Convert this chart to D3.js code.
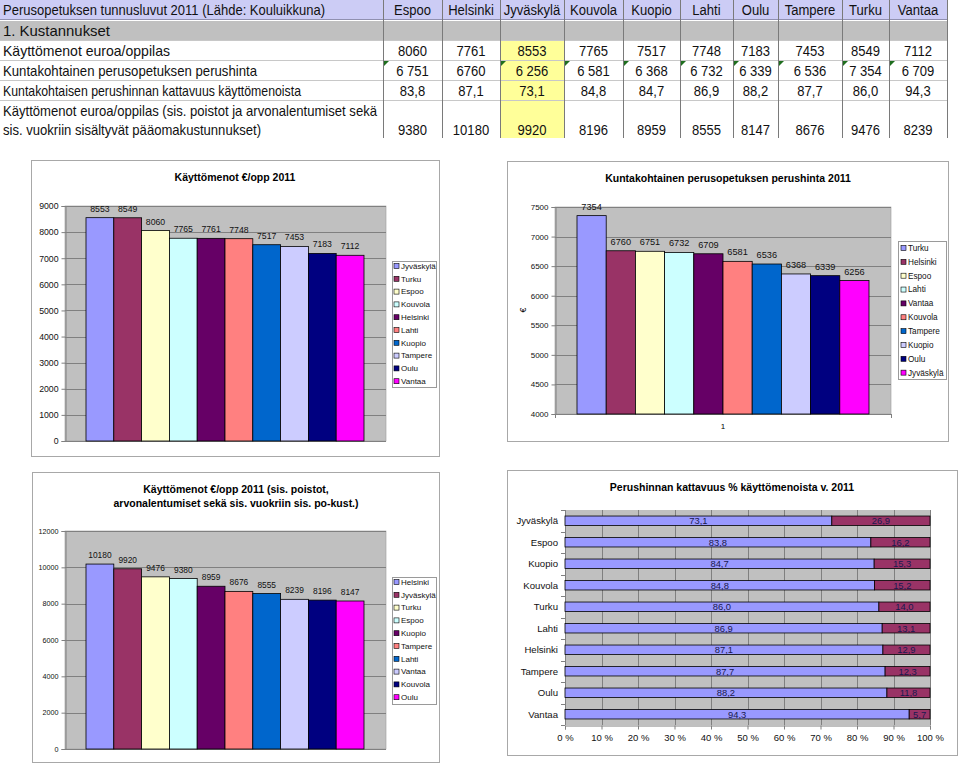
<!DOCTYPE html>
<html><head><meta charset="utf-8">
<script src="https://cdn.jsdelivr.net/npm/d3@7"></script>
<style>
body{margin:0;background:#fff}
svg{display:block;font-family:Arial,"Liberation Sans",sans-serif}
</style>
</head><body>
<svg id="c" width="960" height="764"></svg>
<script>
// ---------------- DATA ----------------
const cities = ["Espoo","Helsinki","Jyväskylä","Kouvola","Kuopio","Lahti","Oulu","Tampere","Turku","Vantaa"];
const kayttomenot = [8060,7761,8553,7765,7517,7748,7183,7453,8549,7112];
const perushinta = [6751,6760,6256,6581,6368,6732,6339,6536,7354,6709];
const perushintaText = ["6 751","6760","6 256","6 581","6 368","6 732","6 339","6 536","7 354","6 709"];
const kattavuus = [83.8,87.1,73.1,84.8,84.7,86.9,88.2,87.7,86.0,94.3];
const kayttomenotSis = [9380,10180,9920,8196,8959,8555,8147,8676,9476,8239];

const tableTitle = "Perusopetuksen tunnusluvut 2011 (Lähde: Kouluikkuna)";
const sectionLabel = "1. Kustannukset";
const rowLabels = [
  ["Käyttömenot euroa/oppilas"],
  ["Kuntakohtainen perusopetuksen perushinta"],
  ["Kuntakohtaisen perushinnan kattavuus käyttömenoista"],
  ["Käyttömenot euroa/oppilas (sis. poistot ja arvonalentumiset sekä","sis. vuokriin sisältyvät pääomakustunnukset)"]
];

const title1 = ["Käyttömenot €/opp 2011"];
const title2 = ["Kuntakohtainen perusopetuksen perushinta 2011"];
const title3 = ["Käyttömenot €/opp 2011 (sis. poistot,","arvonalentumiset sekä sis. vuokriin sis. po-kust.)"];
const title4 = ["Perushinnan kattavuus % käyttömenoista v. 2011"];

const ticks1 = [0,1000,2000,3000,4000,5000,6000,7000,8000,9000];
const ticks2 = [4000,4500,5000,5500,6000,6500,7000,7500];
const ticks3 = [0,2000,4000,6000,8000,10000,12000];
const ticks4 = [0,10,20,30,40,50,60,70,80,90,100];
const categoryLabel2 = "1";
const axisLabel2 = "€";

// ---------------- STYLE ----------------
const colors = ["#9999FF","#993366","#FFFFCC","#CCFFFF","#660066","#FF8080","#0066CC","#CCCCFF","#000080","#FF00FF"];
const gridColor = "#808080";
const plotBg = "#C0C0C0";

const svg = d3.select("#c");
svg.append("rect").attr("width",960).attr("height",764).attr("fill","#fff");

// ---------------- TABLE ----------------
(function table(){
  const g = svg.append("g");
  const colEdges = [383,442,500,564,623,680,733,778,842,889,947];
  // header
  g.append("rect").attr("x",0).attr("y",0).attr("width",947).attr("height",19).attr("fill","#CCCCF5");
  g.append("rect").attr("x",0).attr("y",21).attr("width",947).attr("height",19).attr("fill","#C0C0C0");
  // yellow Jyväskylä column
  const ji = cities.indexOf("Jyväskylä");
  g.append("rect").attr("x",colEdges[ji]).attr("y",40).attr("width",colEdges[ji+1]-colEdges[ji]).attr("height",98).attr("fill","#FFFF99");
  [40,60,80,100].forEach(y=>{
    g.append("line").attr("x1",0).attr("x2",947).attr("y1",y+.5).attr("y2",y+.5).attr("stroke","#c8c8c8");
  });
  g.append("line").attr("x1",0).attr("x2",947).attr("y1",19.5).attr("y2",19.5).attr("stroke","#9090b0");
  colEdges.forEach(x=>{
    g.append("line").attr("x1",x+.5).attr("x2",x+.5).attr("y1",0).attr("y2",138).attr("stroke","#7a7a7a");
  });
  const fs = 15, sx = 0.87;
  function label(txt,x,y,len){
    g.append("text").attr("x",x).attr("y",y).attr("font-size",fs).attr("fill","#111")
      .attr("textLength",len).attr("lengthAdjust","spacingAndGlyphs").text(txt);
  }
  function num(txt,cx,y){
    g.append("text").attr("transform",`translate(${cx},${y}) scale(${sx},1)`).attr("text-anchor","middle")
      .attr("font-size",fs).attr("fill","#111").text(txt);
  }
  label(tableTitle,3,15,322);
  label(sectionLabel,3,36,107);
  label(rowLabels[0][0],3,56,167);
  label(rowLabels[1][0],3,76,254);
  label(rowLabels[2][0],3,96,298);
  label(rowLabels[3][0],3,116,374);
  label(rowLabels[3][1],3,135,258);
  const fmt1 = d3.format(".1f");
  cities.forEach((c,i)=>{
    const cx = (colEdges[i]+colEdges[i+1])/2;
    num(c,cx,15);
    num(String(kayttomenot[i]),cx,56);
    num(perushintaText[i],cx,76);
    num(fmt1(kattavuus[i]).replace(".",","),cx,96);
    num(String(kayttomenotSis[i]),cx,135);
    if(perushintaText[i].indexOf(" ")>=0){
      const x = colEdges[i]+1;
      g.append("path").attr("d",`M${x},61 L${x+5},61 L${x},66 Z`).attr("fill","#1e6e1e");
    }
  });
})();

// ---------------- VERTICAL BAR CHARTS ----------------
function vbar(cfg){
  const g = svg.append("g");
  const [fx0,fy0,fx1,fy1] = cfg.frame;
  g.append("rect").attr("x",fx0+.5).attr("y",fy0+.5).attr("width",fx1-fx0).attr("height",fy1-fy0)
    .attr("fill","#fff").attr("stroke","#a8a8a8");
  cfg.title.forEach((t,i)=>{
    g.append("text").attr("x",cfg.titleX).attr("y",cfg.titleY+i*14).attr("text-anchor","middle")
      .attr("font-weight","bold").attr("font-size",cfg.titleFS).text(t);
  });
  const [px0,py0,px1,py1] = cfg.plot;
  g.append("rect").attr("x",px0).attr("y",py0).attr("width",px1-px0).attr("height",py1-py0)
    .attr("fill",plotBg).attr("stroke","#9a9a9a").attr("stroke-width",0.6);
  const y = d3.scaleLinear().domain([cfg.ticks[0],cfg.ticks[cfg.ticks.length-1]]).range([py1,py0]);
  g.append("g").selectAll("line").data(cfg.ticks).join("line")
    .attr("x1",px0).attr("x2",px1).attr("y1",d=>Math.round(y(d))+.5).attr("y2",d=>Math.round(y(d))+.5)
    .attr("stroke",gridColor).attr("stroke-width",1);
  const ax = g.append("g").attr("transform",`translate(${px0+.5},0)`)
    .call(d3.axisLeft(y).tickValues(cfg.ticks).tickSize(4).tickPadding(3).tickFormat(d=>String(d)));
  ax.attr("font-family",null).attr("font-size",cfg.tickFS);
  ax.select(".domain").attr("stroke",gridColor);
  ax.selectAll(".tick line").attr("stroke",gridColor);
  ax.selectAll(".tick text").attr("fill","#111");
  const x = d3.scaleBand().domain(cfg.names).range(cfg.bars).padding(0);
  g.append("g").selectAll("rect").data(cfg.names).join("rect")
    .attr("x",d=>x(d)).attr("y",(d,i)=>y(cfg.values[i]))
    .attr("width",x.bandwidth()).attr("height",(d,i)=>py1-y(cfg.values[i]))
    .attr("fill",(d,i)=>colors[i]).attr("stroke","#000").attr("stroke-width",0.8);
  g.append("g").selectAll("text").data(cfg.names).join("text")
    .attr("x",d=>x(d)+x.bandwidth()/2).attr("y",(d,i)=>y(cfg.values[i])-6)
    .attr("text-anchor","middle").attr("font-size",cfg.valFS).attr("fill","#111")
    .text((d,i)=>cfg.values[i]);
  const [lx0,ly0,lx1,ly1] = cfg.legend;
  g.append("rect").attr("x",lx0+.5).attr("y",ly0+.5).attr("width",lx1-lx0).attr("height",ly1-ly0)
    .attr("fill","#fff").attr("stroke","#9a9a9a");
  const li = g.append("g").selectAll("g").data(cfg.names).join("g")
    .attr("transform",(d,i)=>`translate(${cfg.swX},${cfg.legFirst+i*cfg.legStep})`);
  li.append("rect").attr("x",0).attr("y",-2.5).attr("width",5).attr("height",5)
    .attr("fill",(d,i)=>colors[i]).attr("stroke","#000").attr("stroke-width",0.6);
  li.append("text").attr("x",cfg.txX-cfg.swX).attr("y",0).attr("dy","0.35em")
    .attr("font-size",cfg.legFS).attr("fill","#111").text(d=>d);
  return {g,x,y};
}

function order(values, desc){
  const idx = d3.range(cities.length);
  idx.sort((a,b)=> desc ? values[b]-values[a] : values[a]-values[b]);
  return {names: idx.map(i=>cities[i]), values: idx.map(i=>values[i])};
}

const o1 = order(kayttomenot,true);
vbar({frame:[31,160,439,456], plot:[65,206,386,441], bars:[86,364], ticks:ticks1,
  title:title1, titleX:235, titleY:181, titleFS:10.5, tickFS:8.7, valFS:8.7,
  names:o1.names, values:o1.values,
  legend:[392,261,436,387], swX:394, txX:401, legFirst:266, legStep:12.8, legFS:8});

const o2 = order(perushinta,true);
const c2 = vbar({frame:[507,161,948,441], plot:[555,207,891,414], bars:[577,869], ticks:ticks2,
  title:title2, titleX:728, titleY:182, titleFS:10.5, tickFS:8, valFS:9.2,
  names:o2.names, values:o2.values,
  legend:[898,241,946,379], swX:901, txX:908, legFirst:248, legStep:13.85, legFS:8.2});
c2.g.append("text").attr("transform","translate(526,310) rotate(-90)").attr("text-anchor","middle")
  .attr("font-size",9).text(axisLabel2);
c2.g.append("text").attr("x",723).attr("y",429).attr("text-anchor","middle").attr("font-size",8).text(categoryLabel2);
[555,891].forEach(xx=>c2.g.append("line").attr("x1",xx+.5).attr("x2",xx+.5).attr("y1",414).attr("y2",418).attr("stroke",gridColor));

const o3 = order(kayttomenotSis,true);
vbar({frame:[32,472,439,762], plot:[65,531,386,749], bars:[86,364], ticks:ticks3,
  title:title3, titleX:236, titleY:493, titleFS:10.5, tickFS:7.2, valFS:8.4,
  names:o3.names, values:o3.values,
  legend:[392,577,436,704], swX:394, txX:401, legFirst:582, legStep:12.8, legFS:8});

// ---------------- STACKED HORIZONTAL BAR ----------------
(function(){
  const o4 = order(kattavuus,false);
  const rest = o4.values.map(v=>100-v);
  const g = svg.append("g");
  const frame=[507,470,957,755], plot=[565,510,930,725];
  g.append("rect").attr("x",frame[0]+.5).attr("y",frame[1]+.5).attr("width",frame[2]-frame[0]).attr("height",frame[3]-frame[1])
    .attr("fill","#fff").attr("stroke","#a8a8a8");
  g.append("text").attr("x",732).attr("y",491).attr("text-anchor","middle").attr("font-weight","bold")
    .attr("font-size",10.5).text(title4[0]);
  g.append("rect").attr("x",plot[0]).attr("y",plot[1]).attr("width",plot[2]-plot[0]).attr("height",plot[3]-plot[1])
    .attr("fill",plotBg);
  const x = d3.scaleLinear().domain([0,100]).range([plot[0],plot[2]]);
  const y = d3.scaleBand().domain(o4.names).range([plot[1],plot[3]]).paddingInner(0.56).paddingOuter(0.28);
  g.append("g").selectAll("line").data(ticks4.slice(1)).join("line")
    .attr("x1",d=>Math.round(x(d))+.5).attr("x2",d=>Math.round(x(d))+.5).attr("y1",plot[1]).attr("y2",plot[3])
    .attr("stroke",gridColor);
  const ax = g.append("g").attr("transform",`translate(0,${plot[3]+.5})`)
    .call(d3.axisBottom(x).tickValues(ticks4).tickSize(4).tickPadding(5).tickFormat(d=>d+" %"));
  ax.attr("font-family",null).attr("font-size",9.5);
  ax.select(".domain").attr("stroke",gridColor);
  ax.selectAll(".tick line").attr("stroke",gridColor);
  ax.selectAll(".tick text").attr("fill","#111");
  g.append("line").attr("x1",plot[0]+.5).attr("x2",plot[0]+.5).attr("y1",plot[1]).attr("y2",plot[3]).attr("stroke",gridColor);
  const step = y.step();
  g.append("g").selectAll("line").data(d3.range(o4.names.length+1)).join("line")
    .attr("x1",plot[0]-4).attr("x2",plot[0]).attr("y1",k=>Math.round(plot[1]+k*step)+.5).attr("y2",k=>Math.round(plot[1]+k*step)+.5)
    .attr("stroke",gridColor);
  g.append("g").selectAll("text").data(o4.names).join("text")
    .attr("x",plot[0]-7).attr("y",d=>y(d)+y.bandwidth()/2).attr("dy","0.35em").attr("text-anchor","end")
    .attr("font-size",9.6).attr("fill","#111").text(d=>d);
  const fmt = v=>d3.format(".1f")(v).replace(".",",");
  const bars = g.append("g");
  bars.selectAll("rect.a").data(o4.names).join("rect").attr("class","a")
    .attr("x",x(0)).attr("y",d=>y(d)).attr("width",(d,i)=>x(o4.values[i])-x(0)).attr("height",y.bandwidth())
    .attr("fill",colors[0]).attr("stroke","#000").attr("stroke-width",0.8);
  bars.selectAll("rect.b").data(o4.names).join("rect").attr("class","b")
    .attr("x",(d,i)=>x(o4.values[i])).attr("y",d=>y(d)).attr("width",(d,i)=>x(100)-x(o4.values[i])).attr("height",y.bandwidth())
    .attr("fill",colors[1]).attr("stroke","#000").attr("stroke-width",0.8);
  bars.selectAll("text.a").data(o4.names).join("text").attr("class","a")
    .attr("x",(d,i)=>x(o4.values[i]/2)).attr("y",d=>y(d)+y.bandwidth()/2).attr("dy","0.36em").attr("text-anchor","middle")
    .attr("font-size",9.4).attr("fill","#1a1a50").text((d,i)=>fmt(o4.values[i]));
  bars.selectAll("text.b").data(o4.names).join("text").attr("class","b")
    .attr("x",(d,i)=>x(o4.values[i]+rest[i]/2)).attr("y",d=>y(d)+y.bandwidth()/2).attr("dy","0.36em").attr("text-anchor","middle")
    .attr("font-size",9.4).attr("fill","#1a1a50").text((d,i)=>fmt(rest[i]));
})();
</script>
</body></html>
